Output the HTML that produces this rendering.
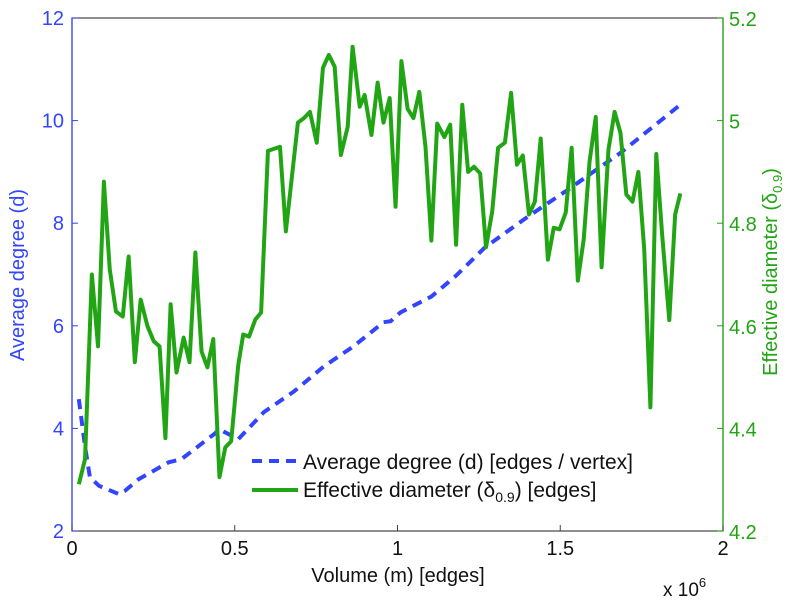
<!DOCTYPE html>
<html><head><meta charset="utf-8"><style>
body{margin:0;background:#fff}
svg text{font-family:"Liberation Sans",sans-serif}
</style></head><body>
<svg id="chart" width="806" height="600" xmlns="http://www.w3.org/2000/svg"></svg>
<script>
const xTicks=[0,0.5,1,1.5,2];
const xTickLabels=["0","0.5","1","1.5","2"];
const leftTicks=[2,4,6,8,10,12];
const rightTicks=[4.2,4.4,4.6,4.8,5.0,5.2];
const rightTickLabels=["4.2","4.4","4.6","4.8","5","5.2"];
const degX=[0.021,0.040,0.055,0.083,0.144,0.162,0.205,0.297,0.336,0.437,0.453,0.511,0.590,0.682,0.774,0.865,0.957,0.979,1.009,1.104,1.177,1.269,1.401,1.523,1.624,1.685,1.869];
const degY=[4.57,3.65,3.05,2.88,2.72,2.78,3.01,3.34,3.40,3.89,3.98,3.79,4.32,4.72,5.21,5.60,6.07,6.09,6.26,6.57,6.96,7.53,8.13,8.65,9.10,9.37,10.31];
const diaX=[0.021,0.040,0.061,0.080,0.098,0.116,0.135,0.156,0.174,0.193,0.211,0.232,0.251,0.269,0.287,0.303,0.321,0.343,0.361,0.379,0.398,0.416,0.434,0.453,0.471,0.489,0.511,0.526,0.544,0.563,0.581,0.602,0.639,0.657,0.694,0.713,0.731,0.752,0.771,0.789,0.807,0.826,0.847,0.862,0.884,0.899,0.920,0.939,0.957,0.976,0.994,1.012,1.031,1.049,1.067,1.086,1.104,1.122,1.144,1.162,1.180,1.199,1.217,1.235,1.254,1.272,1.291,1.309,1.330,1.349,1.367,1.385,1.404,1.422,1.440,1.462,1.480,1.498,1.517,1.535,1.554,1.572,1.590,1.609,1.627,1.648,1.667,1.685,1.703,1.722,1.740,1.758,1.777,1.795,1.813,1.835,1.853,1.869];
const diaY=[4.291,4.340,4.700,4.560,4.881,4.710,4.628,4.618,4.735,4.529,4.651,4.599,4.570,4.560,4.381,4.642,4.509,4.577,4.529,4.743,4.550,4.519,4.574,4.305,4.363,4.375,4.525,4.583,4.579,4.612,4.626,4.941,4.949,4.784,4.996,5.005,5.017,4.957,5.103,5.128,5.105,4.933,4.988,5.144,5.027,5.050,4.972,5.074,4.996,5.044,4.832,5.116,5.023,5.005,5.056,4.949,4.766,4.994,4.968,4.992,4.758,5.031,4.900,4.910,4.897,4.753,4.823,4.947,4.957,5.054,4.914,4.932,4.817,4.842,4.965,4.729,4.791,4.788,4.821,4.947,4.688,4.768,4.920,5.007,4.714,4.943,5.017,4.976,4.856,4.842,4.900,4.749,4.441,4.935,4.778,4.611,4.817,4.858];

const L=72,R=723,T=18,B=531;
const BLUE="#3344ff",GREEN="#22a514";
const sx=v=>L+(v/2)*(R-L);
const sl=v=>B-(v-2)/10*(B-T);
const sr=v=>B-(v-4.2)/1.0*(B-T);
const svg=document.getElementById('chart');
const NS="http://www.w3.org/2000/svg";
function mk(tag,attrs,parent){const e=document.createElementNS(NS,tag);for(const k in attrs)e.setAttribute(k,attrs[k]);(parent||svg).appendChild(e);return e;}

const frame=mk('rect',{x:L,y:T,width:R-L,height:B-T,fill:'none',stroke:'#444','stroke-width':1.2});


const la=mk('line',{x1:L,y1:T,x2:L,y2:B,stroke:BLUE,'stroke-width':1.2});


const ra=mk('line',{x1:R,y1:T,x2:R,y2:B,stroke:GREEN,'stroke-width':1.2});



xTicks.forEach((v,i)=>{
  mk('line',{x1:sx(v),y1:B,x2:sx(v),y2:B-6,stroke:'#444'});
  const t=mk('text',{x:sx(v),y:B+24,'text-anchor':'middle','font-size':20,fill:'#111'});
  t.textContent=xTickLabels[i];
  
  
});
leftTicks.forEach(v=>{
  mk('line',{x1:L,y1:sl(v),x2:L+6,y2:sl(v),stroke:BLUE});
  const t=mk('text',{x:L-8,y:sl(v)+7,'text-anchor':'end','font-size':20,fill:BLUE});
  t.textContent=String(v);
  
  
});
rightTicks.forEach((v,i)=>{
  mk('line',{x1:R,y1:sr(v),x2:R-6,y2:sr(v),stroke:GREEN});
  const t=mk('text',{x:R+6,y:sr(v)+8,'font-size':20,fill:GREEN});
  t.textContent=rightTickLabels[i];
  
  
});

const dp=mk('polyline',{points:degX.map((x,i)=>sx(x)+','+sl(degY[i])).join(' '),fill:'none',stroke:BLUE,'stroke-width':4,'stroke-dasharray':'10,7'});


const gp=mk('polyline',{points:diaX.map((x,i)=>sx(x)+','+sr(diaY[i])).join(' '),fill:'none',stroke:GREEN,'stroke-width':4,'stroke-linejoin':'round'});


</script>
<svg style="position:absolute;left:0;top:0" width="806" height="600" xmlns="http://www.w3.org/2000/svg">
  <g>
    <line x1="252" y1="461" x2="298" y2="461" stroke="#3344ff" stroke-width="4" stroke-dasharray="10,7"/>
    <text x="303" y="469" font-size="21" fill="#111">Average degree (d) [edges / vertex]</text>
    <line x1="252" y1="490" x2="298" y2="490" stroke="#22a514" stroke-width="4"/>
    <text x="303" y="497" font-size="21" fill="#111">Effective diameter (δ<tspan font-size="14" dy="5">0.9</tspan><tspan dy="-5">) [edges]</tspan></text>
  </g>
  <text x="398" y="582" text-anchor="middle" font-size="20" fill="#111">Volume (m) [edges]</text>
  <text x="663" y="596" font-size="19" fill="#111">x 10<tspan font-size="13" dy="-9">6</tspan></text>
  <text transform="translate(24,275) rotate(-90)" text-anchor="middle" font-size="20" fill="#3344ff">Average degree (d)</text>
  <text transform="translate(777,272) rotate(-90)" text-anchor="middle" font-size="20" fill="#22a514">Effective diameter (δ<tspan font-size="13" dy="5">0.9</tspan><tspan dy="-5">)</tspan></text>
</svg>
</body></html>
